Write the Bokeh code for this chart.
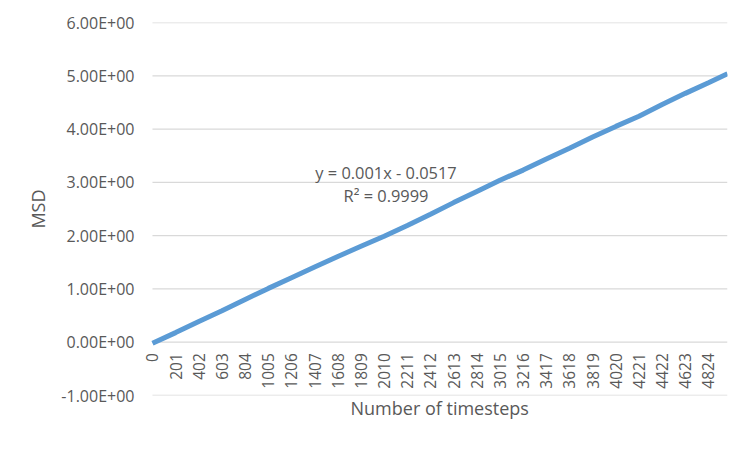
from bokeh.plotting import figure
from bokeh.models import Range1d, FixedTicker, Label, LabelSet, ColumnDataSource, Title
from bokeh.core.properties import value
from bokeh.embed import file_html
from bokeh.resources import INLINE
import math

# ---- data ----
timesteps = [0, 201, 402, 603, 804, 1005, 1206, 1407, 1608, 1809, 2010, 2211, 2412,
             2613, 2814, 3015, 3216, 3417, 3618, 3819, 4020, 4221, 4422, 4623, 4824, 4989]
msd = [-0.02, 0.18, 0.39, 0.59, 0.80, 1.01, 1.21, 1.41, 1.61, 1.80, 1.99, 2.19, 2.40,
       2.62, 2.83, 3.04, 3.23, 3.44, 3.64, 3.85, 4.05, 4.24, 4.46, 4.67, 4.87, 5.04]

x_tick_values = [0, 201, 402, 603, 804, 1005, 1206, 1407, 1608, 1809, 2010, 2211, 2412,
                 2613, 2814, 3015, 3216, 3417, 3618, 3819, 4020, 4221, 4422, 4623, 4824]
x_tick_labels = [str(v) for v in x_tick_values]

y_tick_values = [-1, 0, 1, 2, 3, 4, 5, 6]
y_tick_labels = ["-1.00E+00", "0.00E+00", "1.00E+00", "2.00E+00", "3.00E+00",
                 "4.00E+00", "5.00E+00", "6.00E+00"]

x_min = 0
x_max = 4989
x_title = "Number of timesteps"
y_title = "MSD"
eq_line1 = "y = 0.001x - 0.0517"
eq_line2 = "R\u00b2 = 0.9999"

FONT = "Open Sans"
TXT = "#595959"
GRID = "#D9D9D9"
BLUE = "#5B9BD5"

# small left pad so the "0" category label is not clipped by the frame
pad = 104

p = figure(width=750, height=449, output_backend="svg", toolbar_location=None,
           x_range=Range1d(x_min - pad, x_max), y_range=Range1d(-1, 6),
           min_border_left=140, min_border_right=23, min_border_top=22,
           min_border_bottom=54)
p.outline_line_color = None
p.background_fill_color = "white"
p.border_fill_color = "white"

# y axis
p.yaxis.ticker = FixedTicker(ticks=y_tick_values)
p.yaxis.major_label_overrides = {v: l for v, l in zip(y_tick_values, y_tick_labels)}
p.yaxis.axis_line_color = None
p.yaxis.major_tick_line_color = None
p.yaxis.minor_tick_line_color = None
p.yaxis.major_tick_out = 0
p.yaxis.major_tick_in = 0
p.yaxis.major_label_standoff = 6
p.yaxis.major_label_text_font = FONT
p.yaxis.major_label_text_font_size = "16px"
p.yaxis.major_label_text_color = TXT
p.yaxis.axis_label = y_title
p.yaxis.axis_label_text_font = FONT
p.yaxis.axis_label_text_font_style = "normal"
p.yaxis.axis_label_text_font_size = "18px"
p.yaxis.axis_label_text_color = TXT
p.yaxis.axis_label_standoff = 8

# x axis: nothing drawn by the axis itself (labels placed at y = 0 like Excel)
p.xaxis.ticker = FixedTicker(ticks=[])
p.xaxis.axis_line_color = None
p.xaxis.major_tick_line_color = None
p.xaxis.minor_tick_line_color = None
p.xaxis.major_tick_out = 0
p.xaxis.major_label_text_font_size = "0px"

# horizontal gridlines spanning the category extent only
p.xgrid.grid_line_color = None
p.ygrid.grid_line_color = None
p.segment(x0=[x_min] * len(y_tick_values), x1=[x_max] * len(y_tick_values),
          y0=y_tick_values, y1=y_tick_values, line_color=GRID, line_width=1.3)

# category labels along y = 0
lab_src = ColumnDataSource(dict(x=x_tick_values, y=[0] * len(x_tick_values), t=x_tick_labels))
p.add_layout(LabelSet(x="x", y="y", text="t", source=lab_src, angle=math.pi / 2,
                      text_align="right", text_baseline="middle", y_offset=-11,
                      text_font=value(FONT), text_font_size=value("15.5px"),
                      text_color=value(TXT)))

# x axis title below the frame, centred on the category extent
p.add_layout(Title(text=x_title, align="left", offset=210, standoff=0,
                   vertical_align="top", text_font=FONT, text_font_style="normal",
                   text_font_size="18px", text_color=TXT), "below")

# data line
src = ColumnDataSource(dict(x=timesteps, y=msd))
p.line(x="x", y="y", source=src, line_color=BLUE, line_width=5)

# trendline equation
x_eq = 2026
p.add_layout(Label(x=x_eq, y=3.176, text=eq_line1, text_align="center",
                   text_baseline="alphabetic", text_font=FONT,
                   text_font_size="16.4px", text_color=TXT))
p.add_layout(Label(x=x_eq, y=2.758, text=eq_line2, text_align="center",
                   text_baseline="alphabetic", text_font=FONT,
                   text_font_size="16.4px", text_color=TXT))

open("out.html", "w").write(file_html(p, INLINE))
